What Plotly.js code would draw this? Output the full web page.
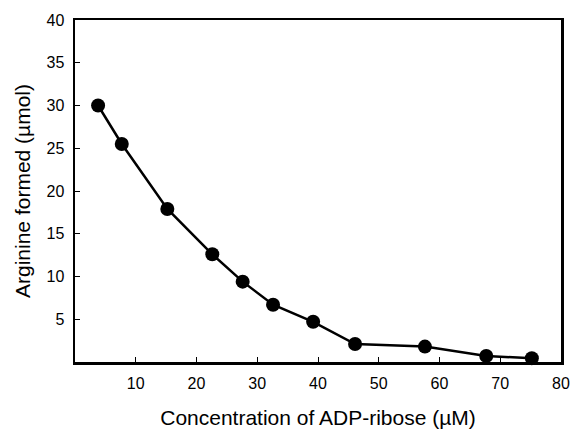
<!DOCTYPE html>
<html>
<head>
<meta charset="utf-8">
<script src="https://cdn.plot.ly/plotly-3.0.1.min.js"></script>
<style>html,body{margin:0;padding:0;background:#fff;}#chart{width:571px;height:432px;}</style>
</head>
<body>
<div id="chart"></div>
<script>
const concentration = [3.8, 7.7, 15.2, 22.6, 27.6, 32.6, 39.2, 46.1, 57.6, 67.7, 75.2];
const arginine = [30.0, 25.5, 17.9, 12.6, 9.4, 6.7, 4.7, 2.1, 1.8, 0.7, 0.45];
const xTicks = [10, 20, 30, 40, 50, 60, 70, 80];
const yTicks = [5, 10, 15, 20, 25, 30, 35, 40];

const trace = {
  x: concentration,
  y: arginine,
  mode: 'lines+markers',
  type: 'scatter',
  line: {color: '#000', width: 2.5},
  marker: {color: '#000', size: 14},
  cliponaxis: false,
  showlegend: false
};

const fam = '"Liberation Sans", Arial, sans-serif';

const layout = {
  width: 571, height: 432,
  margin: {l: 75, r: 10, t: 20, b: 70},
  paper_bgcolor: '#fff', plot_bgcolor: '#fff',
  font: {family: fam, color: '#000'},
  xaxis: {
    range: [0, 80],
    tickvals: xTicks, ticktext: xTicks.map(String),
    ticks: 'inside', ticklen: 5, tickwidth: 1, tickcolor: '#000',
    ticklabelstandoff: 5,
    showline: true, linecolor: '#000', linewidth: 2.5, mirror: true,
    showgrid: false, zeroline: false,
    tickfont: {size: 16, family: fam, color: '#000'},
    title: {text: 'Concentration of ADP-ribose (µM)', font: {size: 21, family: fam, color: '#000'}, standoff: 20}
  },
  yaxis: {
    range: [0, 40],
    tickvals: yTicks, ticktext: yTicks.map(String),
    ticks: 'inside', ticklen: 5, tickwidth: 1, tickcolor: '#000',
    ticklabelstandoff: 5,
    showline: true, linecolor: '#000', linewidth: 2.5, mirror: true,
    showgrid: false, zeroline: false,
    tickfont: {size: 16, family: fam, color: '#000'},
    title: {text: 'Arginine formed (µmol)', font: {size: 21, family: fam, color: '#000'}, standoff: 10}
  }
};

Plotly.newPlot('chart', [trace], layout, {displayModeBar: false, staticPlot: true});
</script>
</body>
</html>
